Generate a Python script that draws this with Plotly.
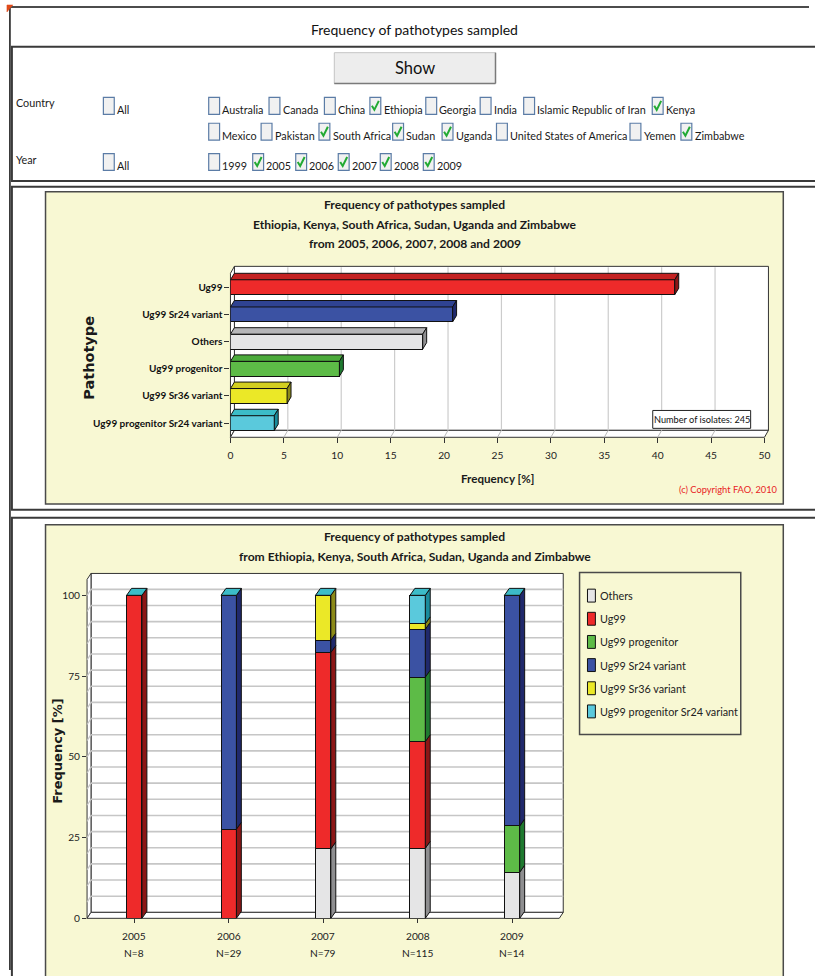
import plotly.graph_objects as go

# ---------------------------------------------------------------- data
pathotypes = ["Ug99", "Ug99 Sr24 variant", "Others", "Ug99 progenitor",
              "Ug99 Sr36 variant", "Ug99 progenitor Sr24 variant"]
overall_freq = [41.6, 20.8, 18.0, 10.2, 5.3, 4.1]
n_isolates = 245

years = ["2005", "2006", "2007", "2008", "2009"]
year_n = [8, 29, 79, 115, 14]

series = ["Others", "Ug99", "Ug99 progenitor", "Ug99 Sr24 variant",
          "Ug99 Sr36 variant", "Ug99 progenitor Sr24 variant"]
others = [0, 0, 21.5, 21.7, 14.3]
ug99 = [100, 27.6, 60.8, 33.0, 0]
progenitor = [0, 0, 0, 20.0, 14.3]
sr24 = [0, 72.4, 3.8, 14.8, 71.4]
sr36 = [0, 0, 13.9, 1.7, 0]
progenitor_sr24 = [0, 0, 0, 8.8, 0]
stack_values = [others, ug99, progenitor, sr24, sr36, progenitor_sr24]

countries_row1 = ["Australia", "Canada", "China", "Ethiopia", "Georgia",
                  "India", "Islamic Republic of Iran", "Kenya"]
countries_row2 = ["Mexico", "Pakistan", "South Africa", "Sudan", "Uganda",
                  "United States of America", "Yemen", "Zimbabwe"]
year_options = ["1999", "2005", "2006", "2007", "2008", "2009"]
selected_countries = ["Ethiopia", "Kenya", "South Africa", "Sudan", "Uganda", "Zimbabwe"]
selected_years = ["2005", "2006", "2007", "2008", "2009"]

# ---------------------------------------------------------------- styles
FRONT = {"Others": "#e5e5e6", "Ug99": "#ee2a2a", "Ug99 progenitor": "#5dbb47",
         "Ug99 Sr24 variant": "#3b52a3", "Ug99 Sr36 variant": "#ebe827",
         "Ug99 progenitor Sr24 variant": "#5ac9dc"}
TOP = {"Others": "#b6b6b8", "Ug99": "#c42222", "Ug99 progenitor": "#4cab3c",
       "Ug99 Sr24 variant": "#2f4392", "Ug99 Sr36 variant": "#d2ce20",
       "Ug99 progenitor Sr24 variant": "#3cbcc8"}
SIDE = {"Others": "#8e8e90", "Ug99": "#8c1616", "Ug99 progenitor": "#1f7a30",
        "Ug99 Sr24 variant": "#20296c", "Ug99 Sr36 variant": "#8c8a18",
        "Ug99 progenitor Sr24 variant": "#1a8c9c"}

NARROW = "Lato, Liberation Sans, sans-serif"
WIDE = "DejaVu Sans, Verdana, sans-serif"
PANEL = "#f8f8d3"
EDGE = "#111111"

# text sizes
FS_FORM = 10.8
FS_TOP = 14
FS_SHOW = 16.5
FS_TITLE = 12.1
FS_TICK = 10.2
FS_CAT = 10.0
FS_LEG = 10.8

W, H = 815, 976


def X(p):
    return p / W


def Y(p):
    return 1 - p / H


shapes = []
annotations = []


def rect(x0, y0, x1, y1, fill=None, line=None, lw=1.0, layer="below"):
    shapes.append(dict(type="rect", xref="paper", yref="paper",
                       x0=X(x0), x1=X(x1), y0=Y(y1), y1=Y(y0),
                       fillcolor=fill or "rgba(0,0,0,0)",
                       line=dict(color=line or "rgba(0,0,0,0)", width=lw if line else 0),
                       layer=layer))


def seg(x0, y0, x1, y1, color, lw=1.0, layer="below"):
    shapes.append(dict(type="line", xref="paper", yref="paper",
                       x0=X(x0), y0=Y(y0), x1=X(x1), y1=Y(y1),
                       line=dict(color=color, width=lw), layer=layer))


def poly(pts, fill, line, lw=1.0, layer="below"):
    path = "M " + " L ".join(f"{X(a):.5f},{Y(b):.5f}" for a, b in pts) + " Z"
    shapes.append(dict(type="path", xref="paper", yref="paper", path=path,
                       fillcolor=fill, line=dict(color=line, width=lw), layer=layer))


def text(x, y, s, size, color="#1a1a1a", family=NARROW, xanchor="left",
         weight="normal", angle=0):
    annotations.append(dict(xref="paper", yref="paper", x=X(x), y=Y(y), text=s,
                            showarrow=False, xanchor=xanchor, yanchor="middle",
                            textangle=angle, borderpad=0,
                            font=dict(family=family, size=size, color=color, weight=weight)))


def checkbox(bx, ty, checked):
    rect(bx, ty - 12.5, bx + 11, ty + 4.5, fill="#f1f1f1", line="#5b7ca6", lw=1.2, layer="above")
    if checked:
        p = f"M {X(bx + 2):.5f},{Y(ty - 4):.5f} L {X(bx + 4.5):.5f},{Y(ty):.5f} L {X(bx + 9):.5f},{Y(ty - 9):.5f}"
        shapes.append(dict(type="path", xref="paper", yref="paper", path=p,
                           line=dict(color="#22aa33", width=2), layer="above"))


# ---------------------------------------------------------------- page frame
seg(7, 7, 815, 7, "#111", 1.5)
seg(7, 7, 7, 976, "#111", 1.5)
poly([(4, 5), (10, 5), (4, 12)], "#e04a1a", "#e04a1a", 0.5)
rect(9, 47, 830, 182, line="#3a3a3a", lw=2)
rect(9, 188, 830, 513, line="#3a3a3a", lw=2)
rect(9, 521, 830, 1000, line="#3a3a3a", lw=2)

text(416.5, 30, "Frequency of pathotypes sampled", FS_TOP, color="#111", xanchor="center")

# selection form
rect(335, 53, 498, 84, fill="#ededed", line="#c4c4c4", lw=1)
seg(498, 53, 498, 84, "#7a7a7a", 1.5)
seg(335, 84, 498, 84, "#7a7a7a", 1.5)
text(416.5, 68.5, "Show", FS_SHOW, xanchor="center", color="#111")

text(12, 103, "Country", FS_FORM)
text(12, 160, "Year", FS_FORM)
checkbox(101.5, 110.5, False)
text(114.5, 110.5, "All", FS_FORM)
checkbox(101.5, 167, False)
text(114.5, 167, "All", FS_FORM)

row1_x = [208, 269, 325, 371, 427.5, 482.5, 526.5, 656.5]
row2_x = [208, 261, 319.5, 394, 444, 499, 634, 685.5]
year_x = [208, 252.5, 296, 339, 381.5, 425]
for names, xs, ty, chosen in [(countries_row1, row1_x, 110.5, selected_countries),
                              (countries_row2, row2_x, 136.5, selected_countries),
                              (year_options, year_x, 167, selected_years)]:
    for name, bx in zip(names, xs):
        checkbox(bx, ty, name in chosen)
        text(bx + 12.8, ty, name, FS_FORM)

# ---------------------------------------------------------------- chart 1 frame
rect(43, 193, 789, 507, fill=PANEL, line="#4a4a4a", lw=1.5)
text(416.5, 205.5, "Frequency of pathotypes sampled", FS_TITLE, weight="bold", xanchor="center")
text(416.5, 225.5, ", ".join(selected_countries[:-1]) + " and " + selected_countries[-1],
     FS_TITLE, weight="bold", xanchor="center")
text(416.5, 245.5, "from " + ", ".join(selected_years[:-1]) + " and " + selected_years[-1],
     FS_TITLE, weight="bold", xanchor="center")

C1_L, C1_R, C1_T, C1_B = 230, 770, 268, 440
C1_DX, C1_DY = 4, 7
C1_UNIT = (C1_R - C1_L) / 50.0
rect(C1_L + C1_DX, C1_T, C1_R + C1_DX, C1_B - C1_DY, fill="white", line="#333", lw=1)
poly([(C1_L, C1_B), (C1_L, C1_T + C1_DY), (C1_L + C1_DX, C1_T), (C1_L + C1_DX, C1_B - C1_DY)],
     "white", "#333", 1)
poly([(C1_L, C1_B), (C1_R, C1_B), (C1_R + C1_DX, C1_B - C1_DY), (C1_L + C1_DX, C1_B - C1_DY)],
     "white", "#333", 1)
for v in range(5, 50, 5):
    gx = C1_L + v * C1_UNIT
    seg(gx + C1_DX, C1_T + 1, gx + C1_DX, C1_B - C1_DY, "#cccccc", 1.2)
    seg(gx, C1_B, gx + C1_DX, C1_B - C1_DY, "#bbbbbb", 1)

text(500, 481.5, "Frequency [%]", 11.6, weight="bold", xanchor="center")
text(785, 493, "(c) Copyright FAO, 2010", 9.3, color="#e8231f", xanchor="right")
text(87, 360, "Pathotype", 14.5, family=WIDE, weight="bold", angle=-90, xanchor="center")
rect(657, 413, 756, 431, fill="white", line="#222", lw=1, layer="above")
text(706.5, 422, f"Number of isolates: {n_isolates}", 9.2, xanchor="center", color="#111")

# ---------------------------------------------------------------- chart 2 frame
rect(43, 528, 789, 1000, fill=PANEL, line="#4a4a4a", lw=1.5)
text(416.5, 540, "Frequency of pathotypes sampled", FS_TITLE, weight="bold", xanchor="center")
text(416.5, 560, "from " + ", ".join(selected_countries[:-1]) + " and " + selected_countries[-1],
     FS_TITLE, weight="bold", xanchor="center")

C2_L, C2_R, C2_T, C2_B = 85, 562.5, 577, 924
C2_DX, C2_DY = 4, 6
C2_UNIT = 3.25
rect(C2_L + C2_DX, C2_T, C2_R + C2_DX, C2_B - C2_DY, fill="white", line="#333", lw=1)
poly([(C2_L, C2_B), (C2_L, C2_T + C2_DY), (C2_L + C2_DX, C2_T), (C2_L + C2_DX, C2_B - C2_DY)],
     "white", "#333", 1)
poly([(C2_L, C2_B), (C2_R, C2_B), (C2_R + C2_DX, C2_B - C2_DY), (C2_L + C2_DX, C2_B - C2_DY)],
     "white", "#333", 1)
for v in range(5, 105, 5):
    gy = C2_B - v * C2_UNIT
    seg(C2_L + C2_DX, gy - C2_DY, C2_R + C2_DX, gy - C2_DY, "#c6c6c6", 1.6)
    seg(C2_L, gy, C2_L + C2_DX, gy - C2_DY, "#c6c6c6", 1.2)

text(55, 755, "Frequency [%]", 13, family=WIDE, weight="bold", angle=-90, xanchor="center")

# legend
rect(583, 576, 746, 739, fill=PANEL, line="#4a4a4a", lw=1.5, layer="above")
for k, name in enumerate(series):
    ly = 599.3 + 23.3 * k
    rect(591, ly - 6.5, 599, ly + 6.5, fill=FRONT[name], line="#111", lw=1, layer="above")
    text(603, ly, name, FS_LEG, color="#222")

# year / N labels under the stacked bars
for i, (yr, n) in enumerate(zip(years, year_n)):
    for lbl, yy in [(yr, 941.5), (f"N={n}", 959)]:
        annotations.append(dict(xref="x2", yref="paper", x=i, y=Y(yy), text=lbl, showarrow=False,
                                xanchor="center", yanchor="middle", borderpad=0,
                                font=dict(family=NARROW, size=FS_TICK, color="#222")))

# ---------------------------------------------------------------- traces
fig = go.Figure()


def face(xs, ys, color, xa, ya):
    fig.add_trace(go.Scatter(x=xs, y=ys, mode="lines", fill="toself", fillcolor=color,
                             line=dict(color=EDGE, width=1), hoverinfo="skip",
                             showlegend=False, xaxis=xa, yaxis=ya))


# chart 1: horizontal 3-D style bars
c1_row0, c1_step = 289.0, 27.36
h1 = 15.0 / c1_step
dx1 = C1_DX / C1_UNIT
dy1 = -6.5 / c1_step
rows = list(range(len(pathotypes)))
fig.add_trace(go.Bar(x=overall_freq, y=rows, orientation="h", width=h1,
                     marker=dict(color=[FRONT[p] for p in pathotypes], line=dict(color=EDGE, width=1)),
                     xaxis="x", yaxis="y", showlegend=False, hoverinfo="x"))
for i, (p, v) in enumerate(zip(pathotypes, overall_freq)):
    t = i - h1 / 2
    b = i + h1 / 2
    face([0, v, v + dx1, dx1, 0], [t, t, t + dy1, t + dy1, t], TOP[p], "x", "y")
    face([v, v + dx1, v + dx1, v, v], [t, t + dy1, b + dy1, b, t], SIDE[p], "x", "y")

# chart 2: stacked 3-D style columns
w2 = 15.5 / ((C2_R - C2_L) / 5.0)
dx2 = 5.0 / ((C2_R - C2_L) / 5.0)
dy2 = 7.0 / C2_UNIT
xs_idx = list(range(len(years)))
cum = [0.0] * len(years)
for name, vals in zip(series, stack_values):
    fig.add_trace(go.Bar(x=xs_idx, y=vals, width=w2, name=name,
                         marker=dict(color=FRONT[name], line=dict(color=EDGE, width=1)),
                         xaxis="x2", yaxis="y2", showlegend=False))
    for i, v in enumerate(vals):
        if v > 0:
            b0, t0 = cum[i], cum[i] + v
            xr = i + w2 / 2
            face([xr, xr + dx2, xr + dx2, xr, xr], [b0, b0 + dy2, t0 + dy2, t0, b0],
                 SIDE[name], "x2", "y2")
        cum[i] += v
for i, total in enumerate(cum):
    xl, xr = i - w2 / 2, i + w2 / 2
    face([xl, xr, xr + dx2, xl + dx2, xl], [total, total, total + dy2, total + dy2, total],
         TOP[series[-1]], "x2", "y2")

# ---------------------------------------------------------------- layout
fig.update_layout(
    width=W, height=H, margin=dict(l=0, r=0, t=0, b=0),
    paper_bgcolor="white", plot_bgcolor="rgba(0,0,0,0)",
    barmode="stack", showlegend=False,
    shapes=shapes, annotations=annotations,
    xaxis=dict(domain=[X(C1_L), X(C1_R)], range=[0, 50], tickvals=list(range(0, 51, 5)),
               ticks="outside", ticklen=5, tickcolor="#333", showgrid=False, zeroline=False,
               showline=False, anchor="y", fixedrange=True, ticklabelstandoff=3,
               tickfont=dict(family=NARROW, size=FS_TICK, color="#222")),
    yaxis=dict(domain=[Y(C1_B), Y(C1_T)],
               range=[(C1_B - c1_row0) / c1_step, (C1_T - c1_row0) / c1_step],
               tickvals=rows, ticktext=pathotypes, ticks="outside", ticklen=5, tickcolor="#333",
               showgrid=False, zeroline=False, showline=False, anchor="x", fixedrange=True,
               tickfont=dict(family=NARROW, size=FS_CAT, color="#111", weight="bold")),
    xaxis2=dict(domain=[X(C2_L), X(C2_R)], range=[-0.5, 4.5], tickvals=xs_idx,
                showticklabels=False, ticks="outside", ticklen=4, tickcolor="#333",
                showgrid=False, zeroline=False, showline=False, anchor="y2", fixedrange=True),
    yaxis2=dict(domain=[Y(C2_B), Y(C2_T)], range=[0, (C2_B - C2_T) / C2_UNIT],
                tickvals=[0, 25, 50, 75, 100], ticks="outside", ticklen=4, tickcolor="#333",
                showgrid=False, zeroline=False, showline=False, anchor="x2", fixedrange=True,
                tickfont=dict(family=NARROW, size=FS_TICK, color="#222")),
)

fig.write_html("out.html", config={"displayModeBar": False})
